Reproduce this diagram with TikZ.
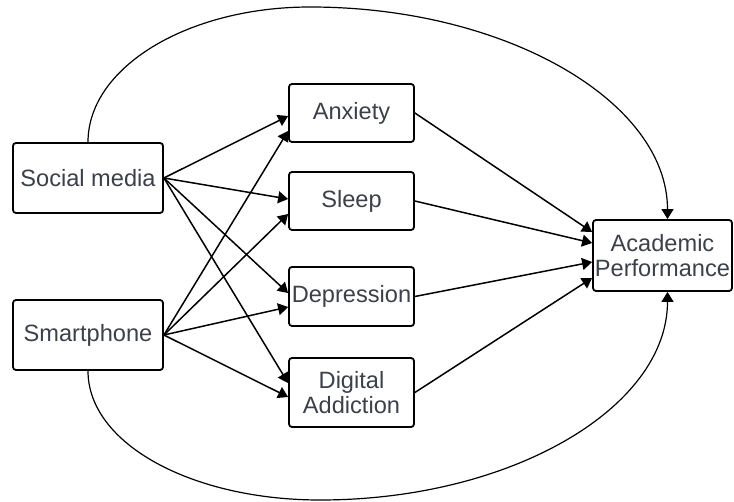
\documentclass[tikz,border=0pt]{standalone}
\usepackage{fontspec}
\setmainfont{Liberation Sans}
\usetikzlibrary{arrows.meta}
\definecolor{textgray}{HTML}{3C4049}

\begin{document}
\begin{tikzpicture}[x=0.5pt, y=-0.5pt,
    factor/.style={draw, line width=0.9pt, rounded corners=1.5pt, fill=white,
      text=textgray, align=center, inner sep=0.5pt,
      font=\fontsize{11.8}{12.5}\selectfont},
    link/.style={-{Triangle[length=5pt,width=6pt]}, line width=0.75pt},
    longlink/.style={link, line width=0.6pt}]

        \useasboundingbox (0,0) rectangle (734,502);

        %Predictors
        \node [factor, minimum width=75pt, minimum height=35pt] (sm) at (88,178) {Social media};
        \node [factor, minimum width=75pt, minimum height=35pt] (sp) at (88,335) {Smartphone};

        %Mediators
        \node [factor, minimum width=62.5pt, minimum height=29pt]   (anx) at (351.5,113)   {Anxiety};
        \node [factor, minimum width=62.5pt, minimum height=29pt]   (slp) at (351.5,201)   {Sleep};
        \node [factor, minimum width=62.5pt, minimum height=29.5pt] (dep) at (351.5,296.5) {Depression};
        \node [factor, minimum width=62.5pt, minimum height=34.5pt] (dig) at (351.5,392.5) {Digital\\Addiction};

        %Outcome
        \node [factor, minimum width=69.5pt, minimum height=35.5pt] (ap) at (662.5,255.5) {Academic\\Performance};

        %Social media paths
        \draw [link] (sm.east) -- ([yshift=-1.5pt]anx.west);
        \draw [link] (sm.east) -- ([yshift=1pt]slp.west);
        \draw [link] (sm.east) -- ([yshift=1.75pt]dep.west);
        \draw [link] (sm.east) -- ([yshift=4.75pt]dig.west);

        %Smartphone paths
        \draw [link] (sp.east) -- ([yshift=-9pt]anx.west);
        \draw [link] (sp.east) -- ([yshift=-6.5pt]slp.west);
        \draw [link] (sp.east) -- ([yshift=-5.25pt]dep.west);
        \draw [link] (sp.east) -- ([yshift=-2.25pt]dig.west);

        %Mediators to outcome
        \draw [link] (anx.east) -- ([yshift=11.75pt]ap.west);
        \draw [link] (slp.east) -- ([yshift=6.25pt]ap.west);
        \draw [link] (dep.east) -- ([yshift=-3.25pt]ap.west);
        \draw [link] (dig.east) -- ([yshift=-11.25pt]ap.west);

        %Direct paths
        \coordinate (top) at (310,7);
        \coordinate (bottom) at (320,500);
        \draw [longlink] (sm.north) .. controls +(0,-75) and +(-122,0) .. (top)
              .. controls +(197,0) and +(0,-117) .. ([xshift=2.5pt]ap.north);
        \draw [longlink] (sp.south) .. controls +(0,73) and +(-128,0) .. (bottom)
              .. controls +(191,0) and +(0,116) .. ([xshift=2.5pt]ap.south);

\end{tikzpicture}
\end{document}
